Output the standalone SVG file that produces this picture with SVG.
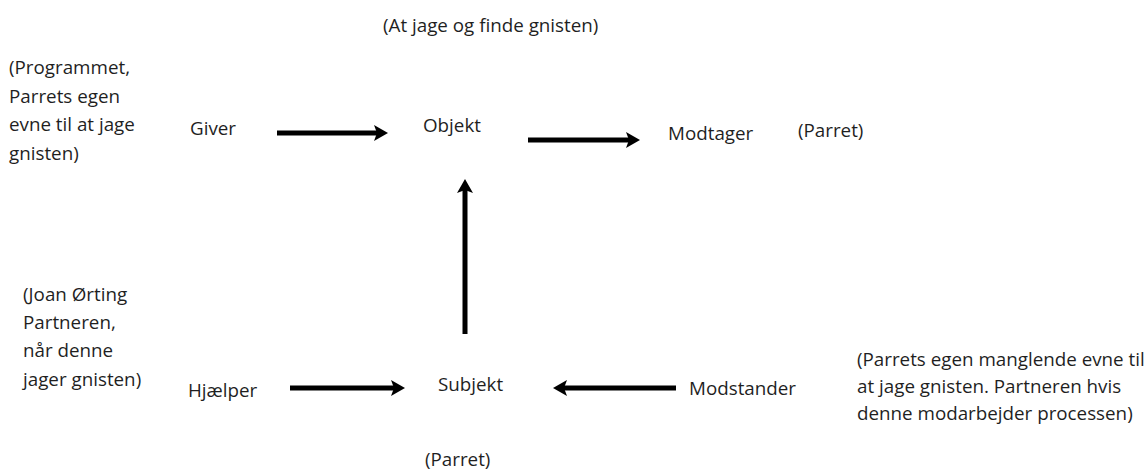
<svg xmlns="http://www.w3.org/2000/svg" width="1147" height="473" viewBox="0 0 1147 473">
  <style>
    text { font-family: "Open Sans", "Liberation Sans", sans-serif; font-size: 18.8px; fill: #1f1f1f; }
    .conn { stroke: #000; stroke-width: 5; fill: none; }
  </style>
  <defs>
    <!-- notched arrowhead; the line ends at the notch, the tip sits 11px further on -->
    <marker id="head" viewBox="0 0 14 16" refX="3" refY="8" markerWidth="14" markerHeight="16" orient="auto" markerUnits="userSpaceOnUse">
      <path d="M0,0 L14,8 L0,16 L3,8 Z" fill="#000"/>
    </marker>
  </defs>
  <rect width="1147" height="473" fill="#fff"/>

  <g id="connectors">
    <line class="conn" x1="277" y1="133" x2="377" y2="133" marker-end="url(#head)"/>
    <line class="conn" x1="528" y1="140" x2="629" y2="140" marker-end="url(#head)"/>
    <line class="conn" x1="465" y1="334" x2="465" y2="190" marker-end="url(#head)"/>
    <line class="conn" x1="290" y1="388" x2="394" y2="388" marker-end="url(#head)"/>
    <line class="conn" x1="676" y1="388" x2="564" y2="388" marker-end="url(#head)"/>
  </g>

  <g id="objekt-note"><text x="383" y="32">(At jage og finde gnisten)</text></g>

  <g id="giver-note">
    <text x="9" y="74">(Programmet,</text>
    <text x="9" y="103">Parrets egen</text>
    <text x="9" y="131">evne til at jage</text>
    <text x="9" y="160">gnisten)</text>
  </g>
  <g id="giver"><text x="190" y="135">Giver</text></g>
  <g id="objekt"><text x="423" y="132">Objekt</text></g>
  <g id="modtager"><text x="668" y="140">Modtager</text></g>
  <g id="modtager-note"><text x="798" y="137">(Parret)</text></g>

  <g id="hjaelper-note">
    <text x="23" y="301">(Joan Ørting</text>
    <text x="23" y="329">Partneren,</text>
    <text x="23" y="357">når denne</text>
    <text x="23" y="386">jager gnisten)</text>
  </g>
  <g id="hjaelper"><text x="188" y="397">Hjælper</text></g>
  <g id="subjekt"><text x="438" y="391">Subjekt</text></g>
  <g id="subjekt-note"><text x="425" y="466">(Parret)</text></g>
  <g id="modstander"><text x="689" y="395">Modstander</text></g>
  <g id="modstander-note">
    <text x="857" y="366">(Parrets egen manglende evne til</text>
    <text x="857" y="393">at jage gnisten. Partneren hvis</text>
    <text x="857" y="420">denne modarbejder processen)</text>
  </g>
</svg>
